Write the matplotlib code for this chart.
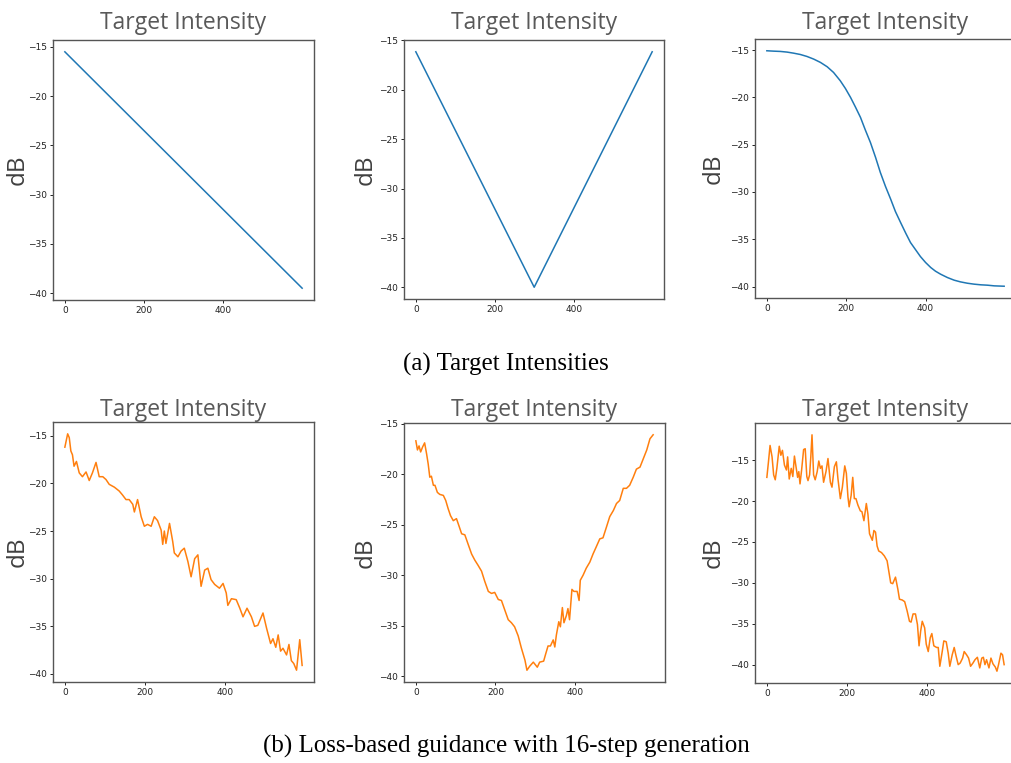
import matplotlib
matplotlib.use("Agg")
import matplotlib.pyplot as plt

# ---------------- data ----------------
# (a) target intensities
lin_x = [0, 599]
lin_y = [-15.5, -39.5]

v_x = [0, 300, 599]
v_y = [-16.15, -40.0, -16.15]

sig_x = [0, 17, 34, 51, 67, 84, 101, 118, 135, 152, 168, 185, 198, 211, 223,
         236, 248, 261, 274, 286, 299, 312, 324, 337, 350, 362, 375, 387, 400,
         413, 425, 438, 455, 472, 488, 505, 522, 539, 556, 573, 598]
sig_y = [-15.07, -15.11, -15.14, -15.21, -15.32, -15.46, -15.67, -15.95,
         -16.30, -16.76, -17.36, -18.24, -19.06, -20.01, -21.0, -22.12,
         -23.43, -24.77, -26.35, -27.94, -29.42, -30.76, -32.07, -33.23,
         -34.36, -35.35, -36.12, -36.83, -37.46, -37.99, -38.38, -38.7,
         -39.05, -39.33, -39.51, -39.65, -39.75, -39.82, -39.86, -39.93,
         -39.97]

# (b) loss-based guidance, 16-step generation
g1_x = [0, 7, 11, 15, 19, 23, 29, 36, 44, 53, 61, 69, 78, 86, 95, 103, 111,
        124, 136, 144, 153, 161, 170, 174, 182, 191, 199, 207, 216, 224, 232,
        241, 245, 249, 253, 262, 270, 274, 283, 291, 299, 308, 316, 325, 333,
        341, 350, 358, 366, 375, 387, 396, 404, 408, 417, 429, 438, 446, 456,
        467, 475, 483, 496, 505, 515, 521, 528, 534, 540, 546, 555, 561, 567,
        573, 580, 588, 594]
g1_y = [-16.2, -14.8, -15.2, -16.6, -17.0, -18.2, -17.7, -18.9, -19.3, -18.8,
        -19.7, -18.9, -17.8, -19.3, -19.3, -19.6, -20.1, -20.4, -20.8, -21.2,
        -21.7, -21.7, -22.2, -23.0, -21.7, -23.5, -24.5, -24.3, -24.5, -23.5,
        -23.9, -24.9, -26.4, -25.0, -26.3, -24.2, -26.1, -27.3, -27.7, -27.1,
        -26.8, -28.2, -29.8, -27.9, -27.5, -30.8, -29.1, -28.9, -30.1, -30.6,
        -31.0, -30.5, -31.5, -32.8, -32.1, -32.2, -33.1, -34.0, -33.1, -34.0,
        -35.0, -34.9, -33.6, -35.2, -36.8, -36.3, -37.2, -35.9, -37.6, -37.3,
        -38.0, -36.9, -38.6, -38.9, -39.6, -36.4, -39.1]

g2_x = [0, 4, 8, 12, 17, 22, 27, 31, 35, 39, 44, 48, 54, 60, 69, 75, 81, 87,
        94, 102, 109, 115, 123, 131, 140, 148, 156, 165, 173, 182, 190, 198,
        207, 215, 223, 232, 240, 248, 257, 265, 274, 279, 286, 295, 305, 311,
        321, 326, 332, 338, 345, 349, 353, 359, 363, 368, 372, 378, 382, 386,
        392, 397, 405, 410, 413, 420, 428, 437, 445, 453, 462, 470, 479, 487,
        496, 504, 512, 521, 529, 537, 546, 554, 563, 571, 580, 588, 596]
g2_y = [-16.7, -17.6, -17.2, -17.8, -17.3, -16.9, -18.0, -19.0, -20.3, -20.2,
        -21.1, -21.1, -21.8, -22.0, -22.1, -22.6, -23.4, -24.1, -24.6, -24.4,
        -25.2, -25.9, -26.0, -26.9, -27.9, -28.5, -29.0, -29.6, -30.6, -31.6,
        -31.8, -31.7, -32.4, -32.5, -33.4, -34.4, -34.7, -35.1, -36.0, -37.2,
        -38.4, -39.4, -39.0, -38.6, -39.1, -38.6, -38.5, -37.8, -37.0, -37.0,
        -36.4, -37.1, -35.9, -34.6, -35.1, -33.2, -34.7, -34.0, -33.3, -34.4,
        -31.4, -31.6, -31.6, -32.5, -30.5, -30.0, -29.3, -28.7, -27.9, -27.2,
        -26.4, -26.3, -25.2, -24.2, -23.6, -22.9, -22.6, -21.4, -21.4, -21.1,
        -20.3, -19.5, -19.3, -18.5, -17.6, -16.5, -16.1]

g3_x = [0, 4, 8, 13, 17, 21, 25, 31, 35, 39, 44, 49, 52, 56, 61, 65, 69, 73,
        77, 80, 83, 87, 92, 96, 100, 103, 107, 110, 113, 117, 121, 126, 130,
        134, 138, 142, 148, 153, 159, 163, 169, 174, 178, 184, 189, 195, 199,
        203, 206, 211, 215, 219, 223, 228, 234, 238, 243, 249, 253, 257, 264,
        268, 272, 276, 280, 287, 294, 301, 305, 310, 315, 322, 328, 332, 339,
        345, 351, 357, 361, 366, 372, 377, 381, 385, 389, 395, 399, 404, 409,
        413, 418, 425, 429, 433, 439, 443, 449, 454, 458, 464, 469, 473, 479,
        484, 490, 494, 500, 505, 510, 516, 521, 527, 533, 538, 542, 546, 550,
        556, 561, 566, 572, 576, 580, 586, 590, 594]
g3_y = [-17.1, -15.2, -13.2, -14.6, -16.8, -17.4, -16.0, -13.3, -14.4, -13.8,
        -15.6, -16.2, -14.6, -17.3, -16.0, -17.0, -14.5, -15.8, -17.1, -16.4,
        -17.9, -16.2, -13.7, -13.6, -17.0, -17.5, -16.8, -14.6, -11.9, -16.8,
        -17.4, -16.4, -15.1, -16.0, -15.7, -17.7, -16.4, -14.8, -17.7, -18.3,
        -15.8, -15.2, -17.3, -19.7, -18.3, -15.7, -16.6, -19.5, -20.7, -19.3,
        -17.1, -19.7, -19.7, -20.5, -21.2, -21.3, -22.4, -20.3, -21.6, -24.0,
        -24.8, -23.6, -23.8, -25.5, -26.1, -26.3, -26.7, -27.3, -28.5, -30.0,
        -30.1, -29.3, -30.8, -32.0, -32.1, -32.3, -33.4, -34.7, -34.8, -33.8,
        -33.8, -35.1, -37.7, -35.9, -34.7, -35.5, -37.5, -38.4, -36.7, -36.2,
        -37.7, -37.9, -37.9, -40.2, -38.4, -37.1, -37.2, -38.6, -40.2, -38.8,
        -37.9, -38.8, -40.0, -39.8, -39.2, -38.4, -38.8, -39.2, -40.2, -39.8,
        -39.4, -39.1, -40.4, -39.2, -39.1, -40.0, -39.4, -40.4, -39.2, -39.9,
        -40.3, -40.8, -40.0, -38.6, -38.8, -40.0]

x_ticks = [0, 200, 400]
title_text = "Target Intensity"
ylabel_text = "dB"
caption_a = "(a) Target Intensities"
caption_b = "(b) Loss-based guidance with 16-step generation"

# ---------------- figure ----------------
W, H = 1012, 763
fig = plt.figure(figsize=(W / 100, H / 100), dpi=100)

def add_ax(l, t, r, b):
    return fig.add_axes([l / W, 1 - b / H, (r - l) / W, (b - t) / H])

boxes = [
    (53, 40, 314, 300), (404, 40, 664, 299), (755, 39, 1016, 298),
    (53, 422, 314, 682), (404, 423, 665, 682), (755, 423, 1016, 683),
]
title_y = [23, 23, 23, 410, 410, 410]
label_x = [18, 366, 714, 18, 366, 714]
series = [
    (lin_x, lin_y, "#1f77b4"), (v_x, v_y, "#1f77b4"), (sig_x, sig_y, "#1f77b4"),
    (g1_x, g1_y, "#ff7f0e"), (g2_x, g2_y, "#ff7f0e"), (g3_x, g3_y, "#ff7f0e"),
]

for (l, t, r, b), ty, lx, (xs, ys, col) in zip(boxes, title_y, label_x, series):
    ax = add_ax(l, t, r, b)
    ax.plot(xs, ys, color=col, lw=1.1)
    ax.set_xticks(x_ticks)
    ax.tick_params(labelsize=6.5, length=2.5, width=0.7, pad=2, colors="#222222")
    for s in ax.spines.values():
        s.set_linewidth(1.0)
        s.set_color("#555555")
    cx = (l + r) / 2
    fig.text(cx / W, 1 - ty / H, title_text, ha="center", va="center",
             fontsize=16.5, color="#595959", family="Open Sans")
    fig.text(lx / W, 1 - ((t + b) / 2) / H, ylabel_text, ha="center",
             va="center", rotation=90, fontsize=17.5, color="#404040",
             family="Open Sans")

fig.text(506 / W, 1 - 364 / H, caption_a, ha="center", va="center",
         fontsize=18, family="Liberation Serif", color="black")
fig.text(506 / W, 1 - 746 / H, caption_b, ha="center", va="center",
         fontsize=18, family="Liberation Serif", color="black")

fig.savefig("out.png", dpi=100)
